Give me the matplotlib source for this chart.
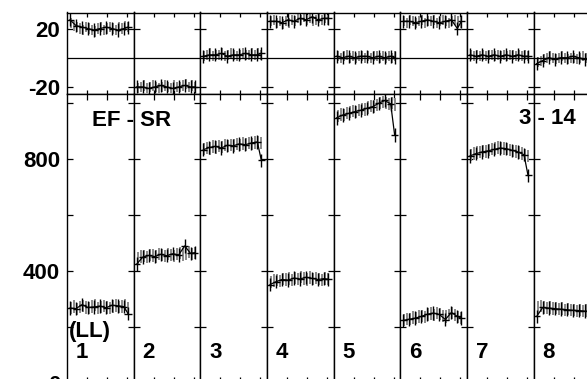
import matplotlib
matplotlib.use("Agg")
import matplotlib.pyplot as plt

plt.rcParams['font.family'] = ['Liberation Sans', 'DejaVu Sans']
plt.rcParams['font.weight'] = 'bold'
plt.rcParams['axes.unicode_minus'] = False

# x positions inside each column (column width is 66.7 units)
gray_x = [4, 7, 10, 13, 16, 19, 22, 25, 28, 31, 34, 37, 40, 43, 46, 49, 52, 55, 58, 61]
cross_x = [3, 9, 15, 21, 27, 33, 39, 45, 51, 57, 61]
col_labels = ['1', '2', '3', '4', '5', '6', '7', '8']

# lower panel: dense gray points
low_gray = [
    [268, 274, 265, 271, 276, 270, 267, 273, 278, 269, 272, 275, 270, 268, 274, 277, 271, 273, 279, 266],
    [448, 452, 455, 450, 458, 456, 452, 460, 457, 455, 462, 458, 454, 461, 465, 459, 463, 468, 462, 466],
    [836, 840, 838, 845, 842, 848, 844, 850, 847, 852, 849, 855, 851, 856, 853, 858, 855, 860, 862, 858],
    [360, 366, 368, 364, 372, 370, 374, 368, 376, 372, 378, 374, 370, 377, 373, 375, 371, 369, 374, 372],
    [955, 960, 958, 965, 968, 972, 970, 976, 980, 978, 985, 990, 988, 995, 1000, 1005, 1002, 998, 1000, 996],
    [225, 230, 228, 234, 232, 238, 240, 236, 245, 248, 244, 250, 246, 240, 238, 244, 250, 242, 236, 233],
    [815, 820, 824, 826, 830, 828, 834, 836, 838, 842, 840, 838, 836, 834, 830, 828, 824, 820, 816, 812],
    [272, 275, 270, 268, 270, 266, 268, 264, 266, 262, 264, 260, 262, 258, 260, 257, 259, 256, 258, 255],
]
# lower panel: black crosses
low_cross = [
    [268, 266, 280, 270, 272, 275, 269, 278, 276, 273, 248],
    [425, 450, 456, 452, 460, 455, 462, 458, 490, 463, 466],
    [834, 842, 846, 840, 850, 848, 855, 852, 858, 862, 796],
    [352, 362, 370, 368, 375, 372, 378, 374, 370, 373, 371],
    [948, 958, 964, 970, 975, 982, 988, 1000, 1010, 998, 886],
    [224, 228, 232, 238, 246, 250, 245, 227, 252, 238, 232],
    [812, 820, 826, 830, 835, 840, 838, 832, 826, 816, 742],
    [238, 270, 268, 266, 264, 262, 260, 259, 257, 256, 255],
]
# upper panel: residuals
up_gray = [
    [24, 22, 21, 20, 19, 21, 20, 19, 18, 20, 21, 19, 20, 21, 20, 19, 21, 20, 22, 21],
    [-21, -20, -19, -21, -20, -19, -20, -21, -20, -19, -20, -21, -19, -20, -20, -19, -18, -20, -19, -20],
    [1, 2, 3, 1, 2, 2, 3, 1, 2, 3, 2, 1, 2, 3, 2, 2, 3, 2, 3, 2],
    [25, 26, 24, 25, 23, 25, 24, 26, 25, 27, 26, 28, 26, 27, 25, 26, 27, 26, 27, 26],
    [1, 0, 1, 2, 0, 1, 0, 1, 1, 0, 1, 0, 1, 1, 0, 1, 0, 1, 0, 1],
    [25, 24, 26, 25, 24, 25, 26, 24, 25, 25, 26, 24, 25, 26, 25, 24, 25, 26, 25, 24],
    [2, 1, 2, 1, 2, 1, 2, 2, 1, 2, 1, 2, 1, 2, 2, 1, 2, 1, 2, 1],
    [-3, -2, -1, 0, 1, 0, -1, 0, 1, 0, -1, 0, 0, -1, 0, 1, 0, -1, 0, -1],
]
up_cross = [
    [26, 22, 21, 20, 19, 20, 21, 20, 19, 20, 21],
    [-20, -20, -21, -20, -19, -20, -21, -20, -19, -20, -20],
    [1, 2, 2, 3, 1, 2, 2, 3, 2, 2, 3],
    [25, 25, 24, 26, 25, 27, 26, 28, 26, 27, 27],
    [1, 0, 1, 0, 1, 1, 0, 1, 0, 1, 0],
    [25, 25, 24, 25, 26, 25, 24, 25, 26, 20, 25],
    [2, 1, 2, 1, 2, 1, 2, 1, 2, 1, 1],
    [-4, -2, 0, -1, 0, 0, 1, 0, -1, 0, -1],
]

W, H = 587, 379
fig = plt.figure(figsize=(W / 100, H / 100), dpi=100)
colw = 66.67
x0 = 67
fs = 16

for i in range(8):
    left = (x0 + i * colw) / W
    axu = fig.add_axes([left, (H - 93.5) / H, colw / W, 81 / H])
    axl = fig.add_axes([left, (H - 383) / H, colw / W, 289.5 / H])

    axu.errorbar(gray_x, up_gray[i], yerr=3.5, fmt='none', ecolor='#8a8a8a', elinewidth=1.4)
    axu.errorbar(cross_x, up_cross[i], xerr=3.5, yerr=4.5, fmt='-', color='black',
                 lw=0.9, elinewidth=1.0)
    axu.axhline(0, color='black', lw=0.9)
    axu.set_ylim(-24.5, 31)

    axl.errorbar(gray_x, low_gray[i], yerr=22, fmt='none', ecolor='#8a8a8a', elinewidth=1.4)
    axl.errorbar(cross_x, low_cross[i], xerr=3.5, yerr=24, fmt='-', color='black',
                 lw=0.9, elinewidth=1.0)
    axl.set_ylim(0, 1035)
    axl.set_yticks([0, 400, 800])
    axl.set_yticks([200, 600, 1000], minor=True)
    axu.set_yticks([-20, 20])

    for ax in (axu, axl):
        ax.set_xlim(0, colw)
        ax.set_xticks([20, 40, 60])
        ax.set_xticklabels([])
        for s in ax.spines.values():
            s.set_linewidth(1.0)
        ax.tick_params(which='both', direction='in', length=4, width=0.9,
                       left=True, right=True, labelsize=fs, pad=5)
        if i > 0:
            ax.set_yticklabels([])
    axu.tick_params(axis='x', top=True, bottom=True, length=3)
    axl.tick_params(axis='x', top=True, bottom=True, length=4)

    fig.text((x0 + i * colw + 9) / W, 1 - 353 / H, col_labels[i],
             fontsize=fs, fontweight='bold', ha='left', va='center')

fig.text(69 / W, 1 - 332 / H, '(LL)', fontsize=fs, fontweight='bold', ha='left', va='center')
fig.text(132 / W, 1 - 120 / H, 'EF - SR', fontsize=fs, fontweight='bold', ha='center', va='center')
fig.text(547 / W, 1 - 119 / H, '3 - 14', fontsize=fs, fontweight='bold', ha='center', va='center')

fig.savefig('out.png', dpi=100)
